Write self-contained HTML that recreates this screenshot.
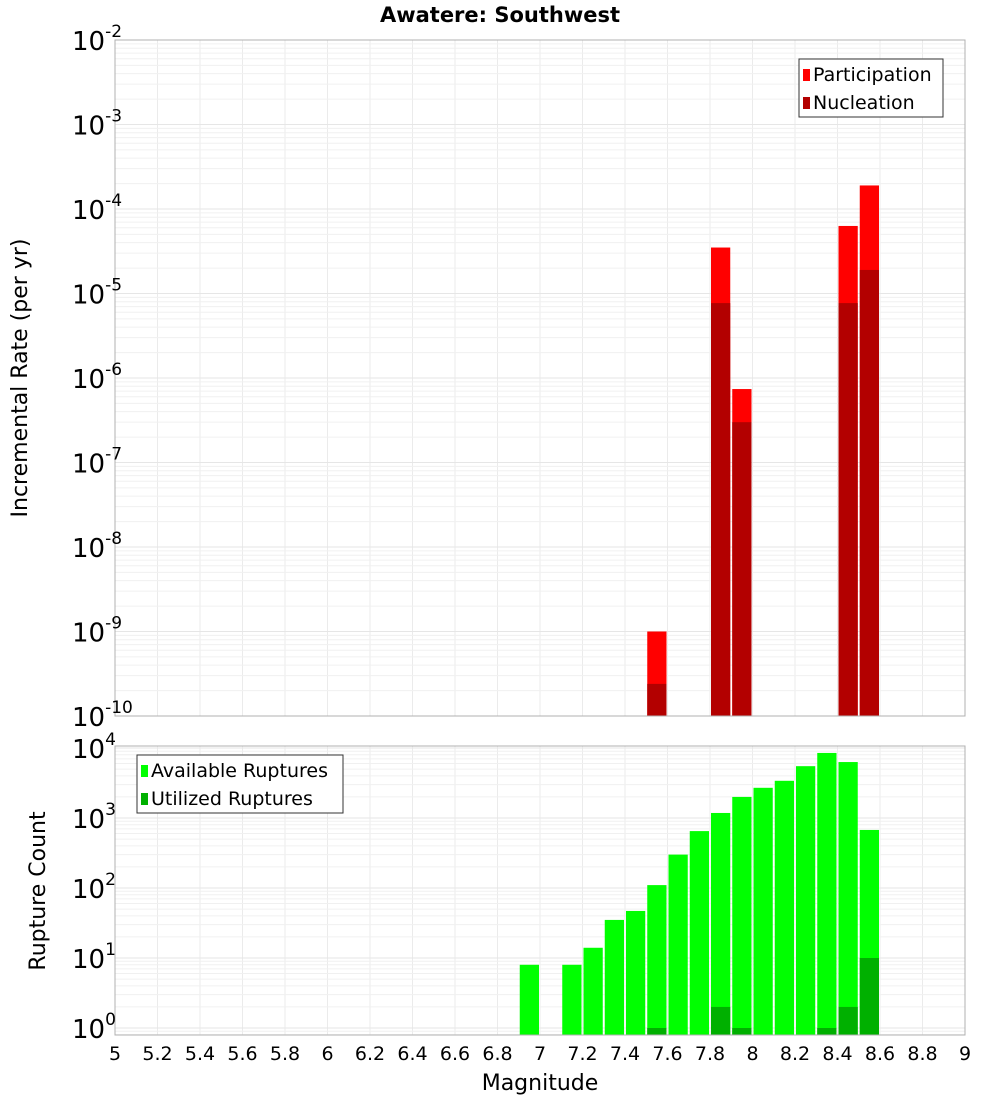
<!DOCTYPE html>
<html><head><meta charset="utf-8"><style>
body{margin:0;background:#fff;}
svg text{font-family:"DejaVu Sans","Liberation Sans",sans-serif;}
</style></head><body>
<svg id="c" width="1000" height="1100" xmlns="http://www.w3.org/2000/svg">
<text x="500" y="22" text-anchor="middle" font-size="21" font-weight="bold">Awatere: Southwest</text>
<text transform="translate(27,378) rotate(-90)" text-anchor="middle" font-size="22">Incremental Rate (per yr)</text>
<text transform="translate(45,891) rotate(-90)" text-anchor="middle" font-size="22">Rupture Count</text>
<text x="540" y="1090" text-anchor="middle" font-size="22">Magnitude</text>
<g id="g"></g>
</svg>
<script>
const rateMags=[7.5,7.8,7.9,8.4,8.5];
const participation=[1.0e-9,3.5e-5,7.4e-7,6.3e-5,1.9e-4];
const nucleation=[2.4e-10,7.7e-6,3.0e-7,7.7e-6,1.9e-5];
const countMags=[6.9,7.1,7.2,7.3,7.4,7.5,7.6,7.7,7.8,7.9,8.0,8.1,8.2,8.3,8.4,8.5];
const available=[8,8,14,35,47,110,300,650,1180,2000,2700,3400,5500,8500,6300,675];
const utilMags=[7.5,7.8,7.9,8.3,8.4,8.5];
const utilized=[1,2,1,1,2,10];
const xTicks=[5,5.2,5.4,5.6,5.8,6,6.2,6.4,6.6,6.8,7,7.2,7.4,7.6,7.8,8,8.2,8.4,8.6,8.8,9];
const topExps=[-2,-3,-4,-5,-6,-7,-8,-9,-10];
const botExps=[4,3,2,1,0];

const NS="http://www.w3.org/2000/svg";
const g=document.getElementById('g');
const L=115,R=965;
const X=m=>L+(m-5)*(R-L)/4;
const T0=40,T1=716;
const Yt=v=>T0+(-2-Math.log10(v))*(T1-T0)/8;
const B0=746,B1=1035;
const Yb=v=>1028-Math.log10(v)*70;
function el(t,a,p){const e=document.createElementNS(NS,t);for(const k in a)e.setAttribute(k,a[k]);(p||g).appendChild(e);return e;}

// grids
function grid(y0,y1,yf,lo,hi,name){
  for(const m of xTicks){const l=el('line',{x1:X(m),x2:X(m),y1:y0,y2:y1,stroke:'#ebebeb','stroke-width':1});
  
  }
  for(let e=lo;e<hi;e++)for(let k=1;k<10;k++){const y=yf(k*Math.pow(10,e));if(y<y0||y>y1)continue;
    const l=el('line',{x1:L,x2:R,y1:y,y2:y,stroke:k==1?'#e6e6e6':'#f0f0f0','stroke-width':1});
    
    }
}
grid(T0,T1,Yt,-10,-2,'top');
grid(B0,B1,Yb,-1,5,'bottom');

function bar(m,v,base,yf,color,name){
  const y=yf(v);const r=el('rect',{x:X(m)+1,y:y,width:X(m+0.1)-X(m)-2,height:base-y,fill:color});
  
  
}
rateMags.forEach((m,i)=>bar(m,participation[i],T1,Yt,'#ff0000','participation-bar'));
rateMags.forEach((m,i)=>bar(m,nucleation[i],T1,Yt,'#b30000','nucleation-bar'));
countMags.forEach((m,i)=>bar(m,available[i],B1,Yb,'#00ff00','available-bar'));
utilMags.forEach((m,i)=>bar(m,utilized[i],B1,Yb,'#00b000','utilized-bar'));

// frames
const f1=el('rect',{x:L,y:T0,width:R-L,height:T1-T0,fill:'none',stroke:'#b0b0b0'});


const f2=el('rect',{x:L,y:B0,width:R-L,height:B1-B0,fill:'none',stroke:'#b0b0b0'});



// y labels
function ylab(e,y,name){const t=el('text',{x:72,y:y,'font-size':26});
  
  
  t.textContent='10';const s=el('tspan',{dy:-13,'font-size':17},t);s.textContent=String(e);}
topExps.forEach(e=>ylab(e,Yt(Math.pow(10,e))+10,'top-y-tick-label'));
botExps.forEach(e=>ylab(e,Yb(Math.pow(10,e))+10,'bottom-y-tick-label'));
// x labels
xTicks.forEach(m=>{const t=el('text',{x:X(m),y:1060,'text-anchor':'middle','font-size':19});
  
  
  t.textContent=String(m);});

// legends
function legend(x,y,w,items,name){
  const box=el('rect',{x:x,y:y,width:w,height:58,fill:'#fff',stroke:'#333'});
  
  
  items.forEach((it,i)=>{
    const r=el('rect',{x:x+4,y:y+10+i*28,width:7,height:12,fill:it[1]});
    
    
    const t=el('text',{x:x+14,y:y+22+i*28,'font-size':19});
    
    
    t.textContent=it[0];});
}
legend(799,59,144,[['Participation','#ff0000'],['Nucleation','#b30000']],'top-legend');
legend(137,755,206,[['Available Ruptures','#00ff00'],['Utilized Ruptures','#00b000']],'bottom-legend');
</script>
</body></html>
